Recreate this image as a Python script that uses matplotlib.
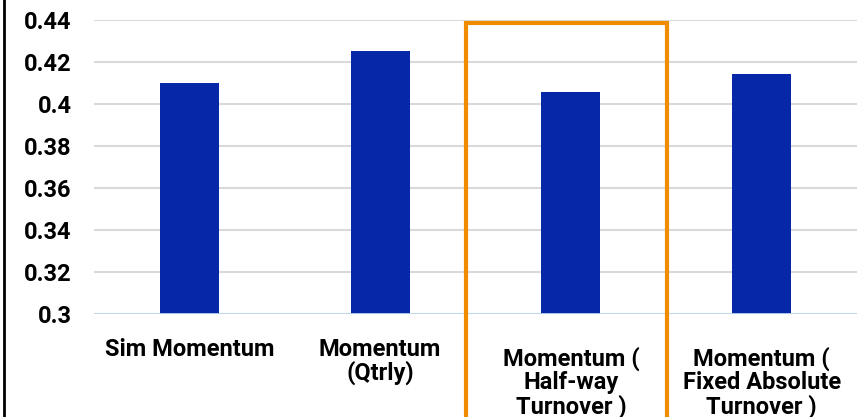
import matplotlib
matplotlib.use("Agg")
import matplotlib.pyplot as plt
from matplotlib.patches import Rectangle
from matplotlib.lines import Line2D
import matplotlib.transforms as mtransforms

categories = ["Sim Momentum", "Momentum\n(Qtrly)", "Momentum (\nHalf-way\nTurnover )", "Momentum (\nFixed Absolute\nTurnover )"]
values = [0.410, 0.4252, 0.4057, 0.4143]
yticks = [0.3, 0.32, 0.34, 0.36, 0.38, 0.4, 0.42, 0.44]
ytick_labels = ["0.3", "0.32", "0.34", "0.36", "0.38", "0.4", "0.42", "0.44"]

plt.rcParams['font.family'] = ['Roboto', 'DejaVu Sans']

fig = plt.figure(figsize=(8.63, 4.17), dpi=100)
ax = fig.add_axes([94/863, 1-314/417, (857-94)/863, (314-20)/417])

x = list(range(len(categories)))
ax.bar(x, [v - 0.3 for v in values], bottom=0.3, width=0.31, color="#0527a8", zorder=3)

ax.set_ylim(0.3, 0.44)
ax.set_xlim(-0.5, len(categories) - 0.5)
ax.set_yticks(yticks)
ax.set_yticklabels(ytick_labels, fontsize=17, fontweight='bold')
ax.set_xticks(x)
ax.set_xticklabels([])
ax.tick_params(axis='both', length=0)
ax.tick_params(axis='y', pad=16)
for s in ax.spines.values():
    s.set_visible(False)
ax.grid(axis='y', color="#d9d9d9", linewidth=1.5, zorder=0)
ax.axhline(0.3, color="#bdd7ee", linewidth=2, zorder=4)

# category labels (3-line labels sit a little lower, as in the reference)
base = ax.get_xaxis_transform()
for xi, lab in zip(x, categories):
    nlines = lab.count("\n") + 1
    off_pt = -17.3 if nlines < 3 else -23.8
    tr = base + mtransforms.ScaledTranslation(0, off_pt / 72, fig.dpi_scale_trans)
    ax.text(xi, 0, lab, transform=tr, ha='center', va='top', fontsize=17,
            fontweight='bold', linespacing=0.99, multialignment='center', clip_on=False)

rect = Rectangle((1.45, 0.24), 1.052, 0.4388 - 0.24, fill=False, edgecolor="#f08c00",
                 linewidth=3, clip_on=False, zorder=5)
ax.add_patch(rect)

fig.add_artist(Line2D([4/863, 4/863], [0, 1], color="black", linewidth=2, transform=fig.transFigure))

fig.savefig("out.png", dpi=100)
